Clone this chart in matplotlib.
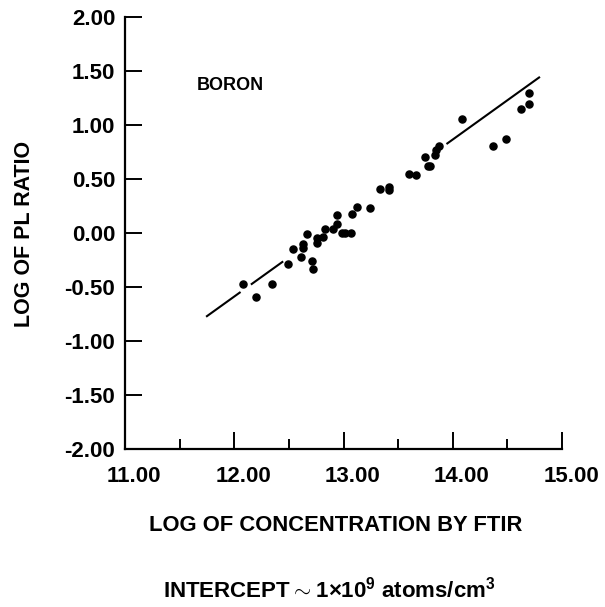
import numpy as np
import matplotlib.pyplot as plt
import matplotlib.transforms as mtransforms

plt.rcParams['font.family'] = ['Liberation Sans', 'DejaVu Sans']
plt.rcParams['font.weight'] = 'bold'
plt.rcParams['mathtext.fontset'] = 'custom'
plt.rcParams['mathtext.rm'] = 'Liberation Sans:bold'
plt.rcParams['mathtext.bf'] = 'Liberation Sans:bold'

# measured points: log concentration (FTIR) vs log PL ratio
conc = [12.08, 12.20, 12.35, 12.49, 12.54, 12.61, 12.63, 12.63, 12.67, 12.71,
        12.72, 12.76, 12.76, 12.81, 12.83, 12.90, 12.94, 12.94, 12.99, 13.01,
        13.07, 13.08, 13.12, 13.24, 13.33, 13.42, 13.42, 13.60, 13.66, 13.75,
        13.77, 13.79, 13.84, 13.85, 13.87, 14.08, 14.37, 14.49, 14.62, 14.70,
        14.70]
pl_ratio = [-0.47, -0.59, -0.47, -0.29, -0.15, -0.22, -0.10, -0.14, -0.01, -0.26,
            -0.33, -0.05, -0.09, -0.04, 0.04, 0.04, 0.08, 0.17, 0.00, 0.00,
            0.00, 0.18, 0.24, 0.23, 0.41, 0.43, 0.40, 0.55, 0.54, 0.70,
            0.62, 0.62, 0.72, 0.77, 0.81, 1.06, 0.81, 0.87, 1.15, 1.19,
            1.30]

# fitted line, drawn in broken pieces
fit_start = (11.75, -0.77)
fit_slope = 0.727
fit_pieces = [(11.75, 12.05), (12.16, 12.44), (13.95, 14.79)]

yticks = [-2.0, -1.5, -1.0, -0.5, 0.0, 0.5, 1.0, 1.5, 2.0]
xticks = [11.0, 12.0, 13.0, 14.0, 15.0]
xminor = [11.5, 12.5, 13.5, 14.5]

fig = plt.figure(figsize=(6.05, 6.07), dpi=100)
ax = fig.add_axes([0.2066, 0.2603, 0.7224, 0.7117])

for a, b in fit_pieces:
    xs = np.array([a, b])
    ax.plot(xs, fit_start[1] + fit_slope * (xs - fit_start[0]), color='black', lw=1.5)

ax.scatter(conc, pl_ratio, s=26, color='black', zorder=3)

ax.set_xlim(11, 15)
ax.set_ylim(-2, 2)
ax.spines['top'].set_visible(False)
ax.spines['right'].set_visible(False)
for s in ('left', 'bottom'):
    ax.spines[s].set_linewidth(1.6)

ax.set_yticks(yticks)
ax.set_yticklabels(['%.2f' % v for v in yticks])
ax.set_xticks(xticks)
ax.set_xticklabels(['%.2f' % v for v in xticks])
ax.set_xticks(xminor, minor=True)
ax.tick_params(axis='y', direction='in', length=12, width=1.4, pad=7, labelsize=16)
ax.tick_params(axis='x', which='major', direction='in', length=12, width=1.4, pad=12, labelsize=16)
ax.tick_params(axis='x', which='minor', direction='in', length=7, width=1.4)

offset = mtransforms.ScaledTranslation(0.09, 0, fig.dpi_scale_trans)
for lab in ax.get_xticklabels():
    lab.set_transform(lab.get_transform() + offset)

ax.text(11.66, 1.37, 'BORON', fontsize=13, fontweight='bold', va='center')

fig.text(0.04, 0.6145, 'LOG OF PL RATIO', rotation=90, fontsize=15.5,
         fontweight='bold', ha='center', va='center')
fig.text(0.555, 0.135, 'LOG OF CONCENTRATION BY FTIR', fontsize=15.8,
         fontweight='bold', ha='center', va='center')
fig.text(0.545, 0.028, r'INTERCEPT$\sim$1$\times$10$^{9}$ atoms/cm$^{3}$',
         fontsize=16, fontweight='bold', ha='center', va='center')

fig.savefig('out.png', dpi=100)
